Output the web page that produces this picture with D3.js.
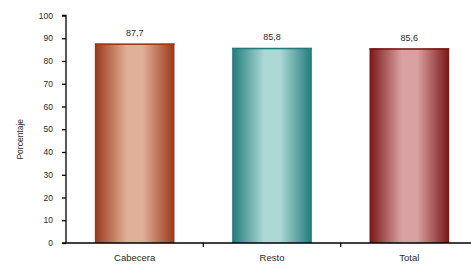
<!DOCTYPE html>
<html><head><meta charset="utf-8">
<script src="https://cdn.jsdelivr.net/npm/d3@7"></script>
<style>body{margin:0;background:#fff}svg{display:block}text{font-family:"Liberation Sans",Arial,sans-serif}</style>
</head><body>
<svg id="c" width="471" height="264"></svg>
<script>
const categories = ["Cabecera", "Resto", "Total"];
const values = [87.7, 85.8, 85.6];
const valueLabels = ["87,7", "85,8", "85,6"];
const yTicks = [0, 10, 20, 30, 40, 50, 60, 70, 80, 90, 100];
const barColors = [
  {dark: "#9a3818", light: "#e0b098"},
  {dark: "#1f7c7a", light: "#acd8d6"},
  {dark: "#7a1616", light: "#d8a0a0"}
];

const svg = d3.select("#c");
const x0 = 66, x1 = 478;
const x = d3.scaleBand().domain(categories).range([x0, x1]).paddingInner(0.42).paddingOuter(0.21);
const y = d3.scaleLinear().domain([0, 100]).range([243, 15.5]);
const txt = "#2a2a2a";

const defs = svg.append("defs");
barColors.forEach((c, i) => {
  const g = defs.append("linearGradient").attr("id", "g" + i).attr("x1", 0).attr("x2", 1).attr("y1", 0).attr("y2", 0);
  g.append("stop").attr("offset", "0%").attr("stop-color", c.dark);
  g.append("stop").attr("offset", "40%").attr("stop-color", c.light);
  g.append("stop").attr("offset", "60%").attr("stop-color", c.light);
  g.append("stop").attr("offset", "100%").attr("stop-color", c.dark);
});

svg.selectAll("rect.bar").data(categories).join("rect").attr("class", "bar")
  .attr("x", d => x(d)).attr("width", x.bandwidth())
  .attr("y", (d, i) => y(values[i])).attr("height", (d, i) => y(0) - y(values[i]))
  .attr("fill", (d, i) => `url(#g${i})`);
svg.selectAll("rect.top").data(categories).join("rect").attr("class", "top")
  .attr("x", d => x(d)).attr("width", x.bandwidth())
  .attr("y", (d, i) => y(values[i])).attr("height", 1.5)
  .attr("fill", (d, i) => barColors[i].dark);

svg.selectAll("text.val").data(categories).join("text").attr("class", "val")
  .attr("x", d => x(d) + x.bandwidth() / 2)
  .attr("y", (d, i) => y(values[i]) - 7.5)
  .attr("text-anchor", "middle").attr("font-size", 9).attr("fill", txt)
  .text((d, i) => valueLabels[i]);

const yAxis = svg.append("g").attr("transform", `translate(${x0},0)`)
  .call(d3.axisLeft(y).tickValues(yTicks).tickSize(4).tickPadding(9));
yAxis.selectAll("text").attr("font-size", 8.5).attr("fill", txt).style("font-family", "Liberation Sans, Arial, sans-serif");
yAxis.selectAll("line,path").attr("stroke", "#000").attr("stroke-width", 1.3);
yAxis.select("path").attr("d", `M-4,${y(100)}H0V${y(0)}`);

const xAxis = svg.append("g").attr("transform", `translate(0,${y(0)})`)
  .call(d3.axisBottom(x).tickSize(0).tickPadding(11));
xAxis.select("path").attr("d", `M${x0 - 4},0H${x1}`).attr("stroke", "#000").attr("stroke-width", 1.3);
xAxis.selectAll("text").attr("font-size", 9.5).attr("fill", txt).style("font-family", "Liberation Sans, Arial, sans-serif");
const bounds = [1, 2].map(k => x0 + k * (x1 - x0) / 3);
xAxis.selectAll("line.sep").data(bounds).join("line").attr("class", "sep")
  .attr("x1", d => d).attr("x2", d => d).attr("y1", 0).attr("y2", 4)
  .attr("stroke", "#000").attr("stroke-width", 1.3);

svg.append("text").attr("transform", `translate(23,${(y(0) + y(100)) / 2 + 10}) rotate(-90)`)
  .attr("text-anchor", "middle").attr("font-size", 8.5).attr("fill", txt).text("Porcentaje");
</script>
</body></html>
